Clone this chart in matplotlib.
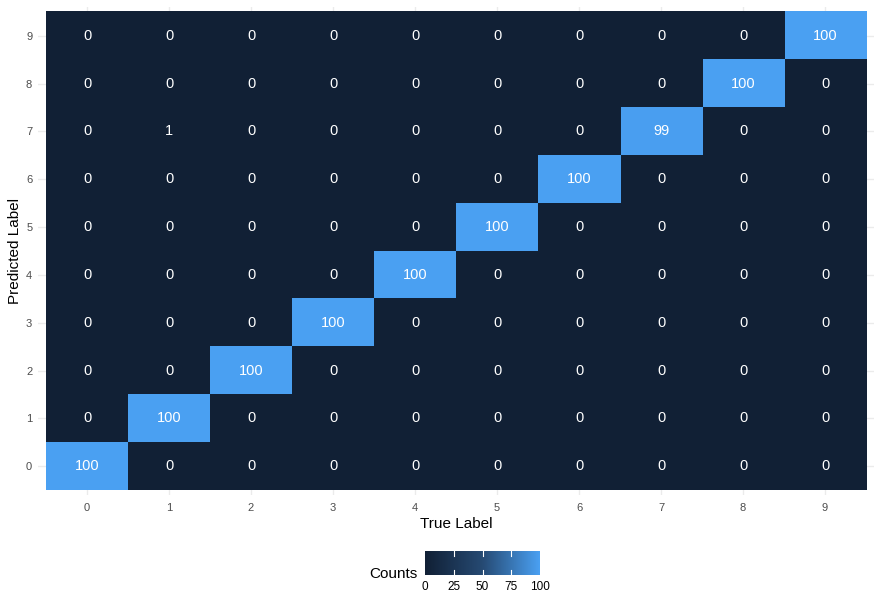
import numpy as np
import matplotlib
matplotlib.use("Agg")
import matplotlib.pyplot as plt
from matplotlib.colors import LinearSegmentedColormap, Normalize

plt.rcParams["font.family"] = ["Liberation Sans", "DejaVu Sans"]

true_labels = ["0", "1", "2", "3", "4", "5", "6", "7", "8", "9"]
pred_labels = ["0", "1", "2", "3", "4", "5", "6", "7", "8", "9"]
# counts[pred][true]
diag_counts = [100, 100, 100, 100, 100, 100, 100, 99, 100, 100]
off_diag = [(7, 1, 1)]  # (pred, true, count)

counts = np.zeros((10, 10), dtype=int)
for i, v in enumerate(diag_counts):
    counts[i, i] = v
for p, t, v in off_diag:
    counts[p, t] = v

cmap = LinearSegmentedColormap.from_list("gg", ["#112035", "#264A73", "#4AA0F2"])
norm = Normalize(0, 100)

W, H = 882, 607
fig = plt.figure(figsize=(W / 100, H / 100), dpi=100)
fig.patch.set_facecolor("white")

left, right, top, bottom = 37.8, 874.2, 7.2, 494.8
ax = fig.add_axes([left / W, 1 - bottom / H, (right - left) / W, (bottom - top) / H])
ax.set_facecolor("white")
ax.set_xlim(-0.6, 9.6)
ax.set_ylim(-0.6, 9.6)
for s in ax.spines.values():
    s.set_visible(False)
ax.set_xticks(range(10))
ax.set_yticks(range(10))
ax.set_xticklabels(true_labels)
ax.set_yticklabels(pred_labels)
ax.tick_params(axis="x", length=0, labelsize=8, labelcolor="#4D4D4D", pad=6)
ax.tick_params(axis="y", length=0, labelsize=8, labelcolor="#4D4D4D", pad=4)
ax.grid(True, color="#EBEBEB", linewidth=1.0, zorder=0)
ax.set_axisbelow(True)

ax.imshow(counts, cmap=cmap, norm=norm, origin="lower",
          extent=(-0.5, 9.5, -0.5, 9.5), aspect="auto", zorder=2,
          interpolation="nearest")
for p in range(10):
    for t in range(10):
        ax.text(t, p, str(counts[p, t]), ha="center", va="center",
                color="white", fontsize=10.5, zorder=3)

ax.set_xlabel("True Label", fontsize=11, color="black", labelpad=3)
ax.set_ylabel("Predicted Label", fontsize=11, color="black", labelpad=3)

# colorbar legend
cb_l, cb_r, cb_t, cb_b = 425, 540, 551, 575
cax = fig.add_axes([cb_l / W, 1 - cb_b / H, (cb_r - cb_l) / W, (cb_b - cb_t) / H])
grad = np.linspace(0, 100, 300).reshape(1, -1)
cax.imshow(grad, cmap=cmap, norm=norm, aspect="auto", extent=(0, 100, 0, 1))
cax.set_xlim(0, 100)
cax.set_ylim(0, 1)
cb_ticks = [0, 25, 50, 75, 100]
for v in cb_ticks[1:-1]:
    cax.plot([v, v], [0, 0.2], color="white", lw=0.8)
    cax.plot([v, v], [0.8, 1], color="white", lw=0.8)
for s in cax.spines.values():
    s.set_visible(False)
cax.set_yticks([])
cax.set_xticks(cb_ticks)
cax.set_xticklabels([str(v) for v in cb_ticks])
cax.tick_params(length=0, labelsize=8.5, labelcolor="black", pad=4)
fig.text(418 / W, 1 - 578 / H, "Counts", ha="right", va="baseline",
         fontsize=11, color="black")

fig.savefig("out.png", dpi=100)
